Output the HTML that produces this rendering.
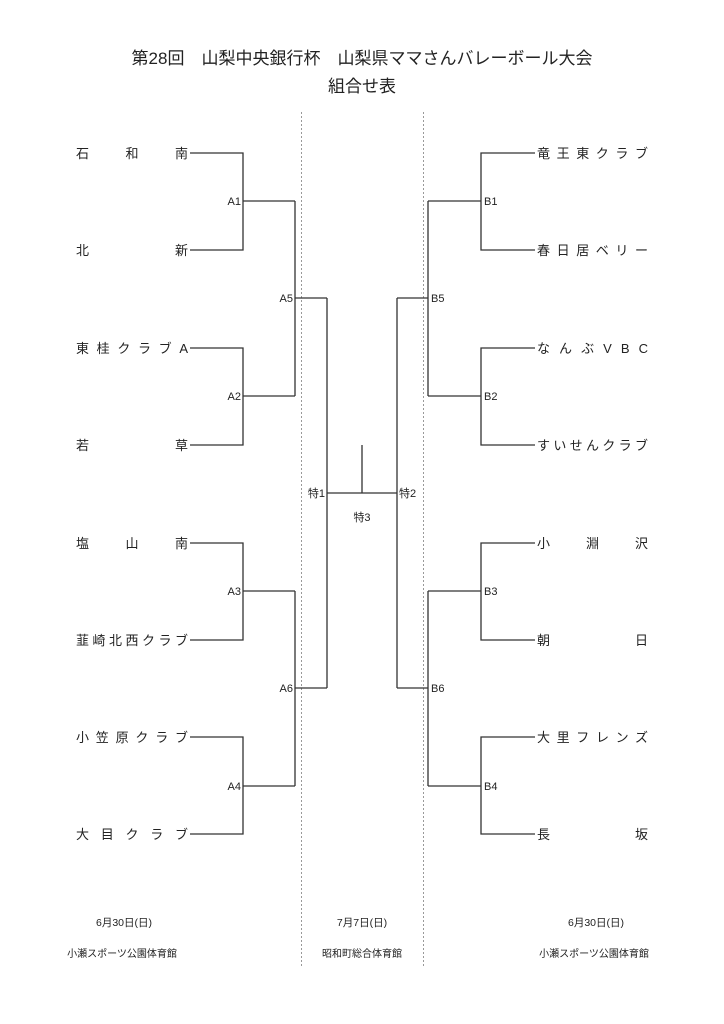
<!DOCTYPE html>
<html><head><meta charset="utf-8"><style>
html,body{margin:0;padding:0;background:#fff;}
svg{display:block;}
text{font-family:"Liberation Sans","Noto Sans CJK JP",sans-serif;fill:#222;}
.n{font-size:13px;}
.l{font-size:11px;}
.t{font-size:17px;}
.s{font-size:10.5px;}
.v{font-size:10px;}
</style></head><body>
<svg width="724" height="1024" viewBox="0 0 724 1024" xmlns="http://www.w3.org/2000/svg">
<text class="t" x="362" y="64" text-anchor="middle">第28回　山梨中央銀行杯　山梨県ママさんバレーボール大会</text>
<text class="t" x="362" y="92" text-anchor="middle">組合せ表</text>
<g stroke="#999" stroke-width="1" stroke-dasharray="2,2">
<line x1="301.5" y1="112" x2="301.5" y2="966"/>
<line x1="423.5" y1="112" x2="423.5" y2="966"/>
</g>
<g stroke="#333" stroke-width="1.3" fill="none">
<path d="M190 153H243V250H190 M243 201H295"/>
<path d="M190 348H243V445H190 M243 396H295"/>
<path d="M190 543H243V640H190 M243 591H295"/>
<path d="M190 737H243V834H190 M243 786H295"/>
<path d="M295 201V396 M295 298H327"/>
<path d="M295 591V786 M295 688H327"/>
<path d="M327 298V688 M327 493H397 M362 445V493"/>
<path d="M535 153H481V250H535 M481 201H428"/>
<path d="M535 348H481V445H535 M481 396H428"/>
<path d="M535 543H481V640H535 M481 591H428"/>
<path d="M535 737H481V834H535 M481 786H428"/>
<path d="M428 201V396 M428 298H397"/>
<path d="M428 591V786 M428 688H397"/>
<path d="M397 298V688"/>
</g>
<g class="n">
<text x="76" y="158" textLength="112" lengthAdjust="spacing">石和南</text>
<text x="76" y="255" textLength="112" lengthAdjust="spacing">北新</text>
<text x="76" y="353" textLength="112" lengthAdjust="spacing">東桂クラブA</text>
<text x="76" y="450" textLength="112" lengthAdjust="spacing">若草</text>
<text x="76" y="548" textLength="112" lengthAdjust="spacing">塩山南</text>
<text x="76" y="645" textLength="112" lengthAdjust="spacing">韮崎北西クラブ</text>
<text x="76" y="742" textLength="112" lengthAdjust="spacing">小笠原クラブ</text>
<text x="76" y="839" textLength="112" lengthAdjust="spacing">大目クラブ</text>
<text x="537" y="158" textLength="111" lengthAdjust="spacing">竜王東クラブ</text>
<text x="537" y="255" textLength="111" lengthAdjust="spacing">春日居ベリー</text>
<text x="537" y="353" textLength="111" lengthAdjust="spacing">なんぶVBC</text>
<text x="537" y="450" textLength="111" lengthAdjust="spacing">すいせんクラブ</text>
<text x="537" y="548" textLength="111" lengthAdjust="spacing">小淵沢</text>
<text x="537" y="645" textLength="111" lengthAdjust="spacing">朝日</text>
<text x="537" y="742" textLength="111" lengthAdjust="spacing">大里フレンズ</text>
<text x="537" y="839" textLength="111" lengthAdjust="spacing">長坂</text>
</g>
<g class="l">
<text x="241" y="205" text-anchor="end">A1</text>
<text x="241" y="400" text-anchor="end">A2</text>
<text x="241" y="595" text-anchor="end">A3</text>
<text x="241" y="790" text-anchor="end">A4</text>
<text x="293" y="302" text-anchor="end">A5</text>
<text x="293" y="692" text-anchor="end">A6</text>
<text x="484" y="205">B1</text>
<text x="484" y="400">B2</text>
<text x="484" y="595">B3</text>
<text x="484" y="790">B4</text>
<text x="431" y="302">B5</text>
<text x="431" y="692">B6</text>
<text x="325" y="497" text-anchor="end">特1</text>
<text x="399" y="497">特2</text>
<text x="362" y="521" text-anchor="middle">特3</text>
</g>
<g class="s">
<text x="124" y="926" text-anchor="middle">6月30日(日)</text>
<text x="362" y="926" text-anchor="middle">7月7日(日)</text>
<text x="596" y="926" text-anchor="middle">6月30日(日)</text>
</g>
<g class="v">
<text x="122" y="957" text-anchor="middle">小瀬スポーツ公園体育館</text>
<text x="362" y="957" text-anchor="middle">昭和町総合体育館</text>
<text x="594" y="957" text-anchor="middle">小瀬スポーツ公園体育館</text>
</g>
</svg>
</body></html>
